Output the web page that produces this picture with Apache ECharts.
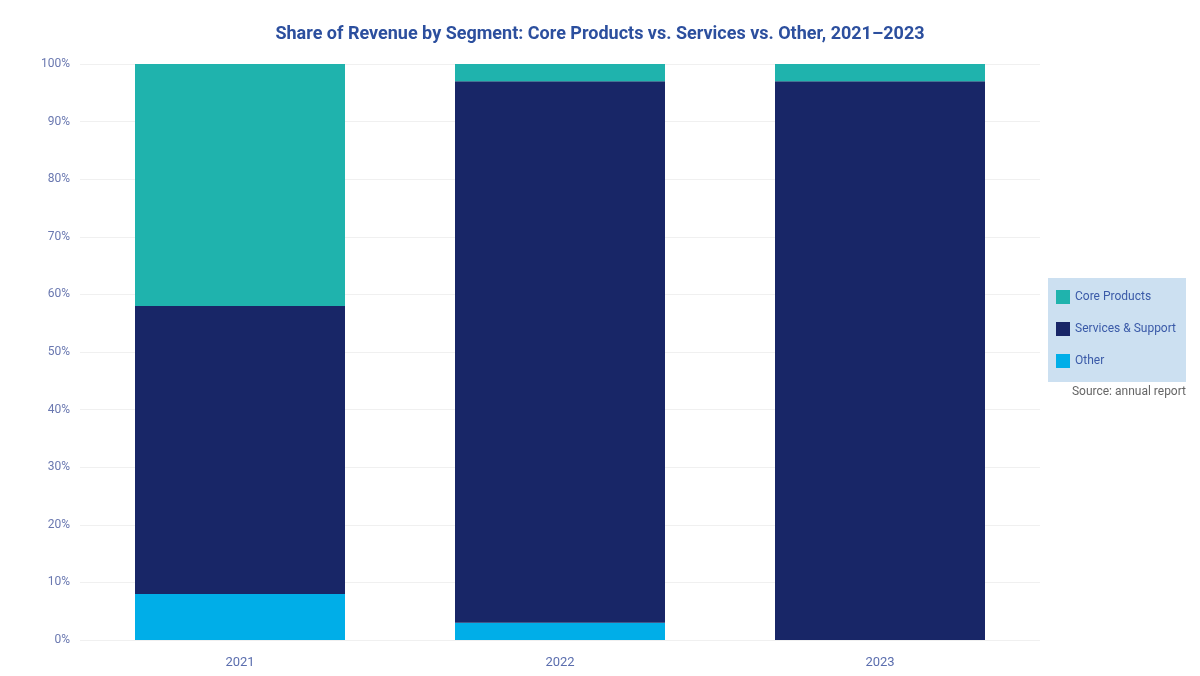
<!DOCTYPE html>
<html>
<head>
<meta charset="utf-8">
<script src="https://cdn.jsdelivr.net/npm/echarts@6/dist/echarts.min.js"></script>
<style>html,body{margin:0;padding:0;background:#fff}#c{width:1200px;height:676px}</style>
</head>
<body>
<div id="c"></div>
<script>
const categories = ['2021', '2022', '2023'];
const seriesNames = ['Core Products', 'Services & Support', 'Other'];
const coreValues = [42, 3, 3];
const servicesValues = [50, 94, 97];
const otherValues = [8, 3, 0];
const yTicks = [0, 10, 20, 30, 40, 50, 60, 70, 80, 90, 100];

const colTeal = '#1fb3ad', colNavy = '#182667', colCyan = '#00aee8';
const chart = echarts.init(document.getElementById('c'));
const font = 'Roboto, "Noto Sans", sans-serif';
chart.setOption({
  animation: false,
  title: {
    text: 'Share of Revenue by Segment: Core Products vs. Services vs. Other, 2021–2023',
    left: 'center',
    top: 20,
    textStyle: { color: '#2c4f9e', fontSize: 18, fontWeight: 'bold', fontFamily: font }
  },
  legend: {
    orient: 'vertical',
    right: 14,
    top: 278,
    itemWidth: 14,
    itemHeight: 14,
    itemGap: 18,
    padding: [12, 10, 14, 8],
    backgroundColor: '#cce0f1',
    icon: 'rect',
    textStyle: { color: '#3a5aa8', fontSize: 12, fontFamily: font },
    data: seriesNames
  },
  graphic: [{
    type: 'text',
    right: 14,
    top: 386,
    style: {
      text: 'Source: annual report',
      fill: '#666',
      font: '12px Roboto, sans-serif'
    }
  }],
  grid: { left: 80, right: 160, top: 64, bottom: 36 },
  xAxis: {
    type: 'category',
    data: categories,
    axisLine: { show: false },
    axisTick: { show: false },
    axisLabel: { color: '#5b6eae', fontSize: 13, margin: 16, fontFamily: font }
  },
  yAxis: {
    type: 'value',
    min: yTicks[0],
    max: yTicks[yTicks.length - 1],
    interval: yTicks[1] - yTicks[0],
    axisLine: { show: false },
    axisTick: { show: false },
    splitLine: { lineStyle: { color: '#f0f0f0' } },
    axisLabel: { color: '#6a78b0', fontSize: 12, margin: 10, formatter: '{value}%', fontFamily: font }
  },
  series: [
    { name: seriesNames[2], type: 'bar', stack: 'a', barWidth: 210, itemStyle: { color: colCyan }, data: otherValues },
    { name: seriesNames[1], type: 'bar', stack: 'a', barWidth: 210, itemStyle: { color: colNavy }, data: servicesValues },
    { name: seriesNames[0], type: 'bar', stack: 'a', barWidth: 210, itemStyle: { color: colTeal }, data: coreValues }
  ]
});
</script>
</body>
</html>
